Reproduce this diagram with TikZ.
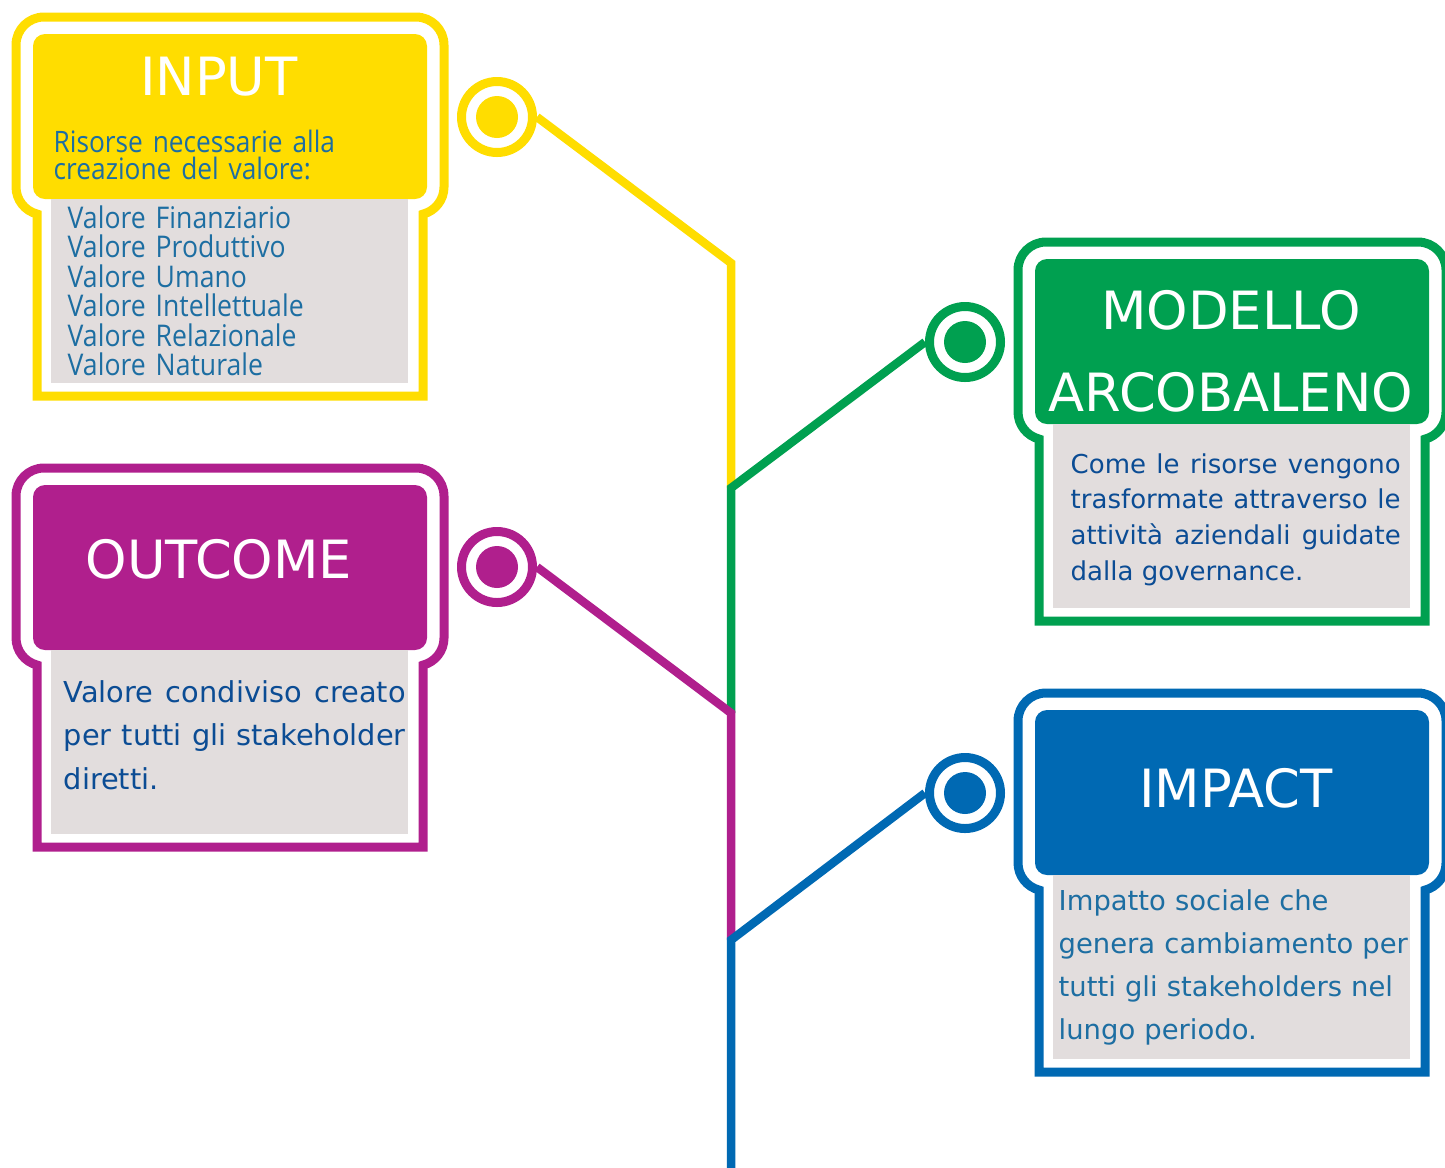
\documentclass[tikz,border=0pt]{standalone}
\usepackage{fontspec}
\setmainfont{DejaVu Sans}
\newfontfamily\fonttitolo{DejaVu Sans}
\newfontfamily\fontstretto[FakeStretch=0.89]{Open Sans}
\usepackage{xcolor}
\usepackage{tikz}
\definecolor{giallo}{HTML}{FFDD00}
\definecolor{verde}{HTML}{00A050}
\definecolor{viola}{HTML}{B01F8D}
\definecolor{blu}{HTML}{0069B3}
\definecolor{grigio}{HTML}{E2DDDD}
\definecolor{testoblu}{HTML}{0B4C94}
\definecolor{testoazzurro}{HTML}{1D6EA2}

\begin{document}
\begin{tikzpicture}[
	x=0.1mm, y=0.1mm,
	cornice/.style={line width=0.9mm},
	testata/.style={rounded corners=1.2mm, minimum width=39.4mm, minimum height=16.5mm, inner sep=0pt},
	corpo/.style={fill=grigio, minimum width=35.7mm, minimum height=18.4mm, inner sep=0pt},
	titolo/.style={text=white, anchor=base, inner sep=0pt, align=center,
		font=\fonttitolo\fontsize{15pt}{23.6pt}\selectfont},
	testo/.style={anchor=base west, inner sep=0pt},
	cerchio/.style={circle, draw=#1, line width=0.9mm, fill=white, minimum size=7.1mm, inner sep=0pt,
		path picture={\fill[#1] (path picture bounding box.center) circle (2.1mm);}},
	ramo/.style={line width=0.85mm}
	]
	
	\useasboundingbox (0,0) rectangle (1445,-1167);
	
	% --- Cornici, testate e corpi ---
	\foreach \ox/\oy/\col/\n in {0/17/giallo/In, 1002/242/verde/Mod, 0/468/viola/Out, 1002/693/blu/Imp} {
		\draw[cornice, \col] (\ox+444,-\oy-170) arc[start angle=0, end angle=-75.5, radius=2.8mm]
			-- (\ox+423,-\oy-379) -- (\ox+37,-\oy-379) -- (\ox+37,-\oy-197)
			arc[start angle=255.5, end angle=180, radius=2.8mm]
			-- (\ox+16,-\oy-28) arc[start angle=180, end angle=90, radius=2.8mm]
			-- (\ox+416,-\oy) arc[start angle=90, end angle=0, radius=2.8mm] -- cycle;
		\node[testata, fill=\col] (t\n) at (\ox+230,-\oy-99.5) {};
		\node[corpo] (c\n) at (\ox+229.5,-\oy-274) {};
	}
	
	% --- Titoli ---
	\node[titolo] (nIn) at (219,-95) {INPUT};
	\node[titolo, text width=39mm] (nMod) at (1231,-329) {MODELLO\\ARCOBALENO};
	\node[titolo] (nOut) at (219,-578) {OUTCOME};
	\node[titolo] (nImp) at (1236,-807) {IMPACT};
	
	% --- Testi ---
	\node[testo, text width=36mm, align=left, text=testoazzurro, font=\fontstretto\fontsize{8.4pt}{7.95pt}\selectfont]
		(sIn) at (53,-152) {Risorse necessarie alla\\creazione del valore:};
	\node[testo, text width=34mm, align=left, text=testoazzurro, font=\fontstretto\fontsize{8.5pt}{8.4pt}\selectfont]
		(lIn) at (67,-228) {Valore Finanziario\\Valore Produttivo\\Valore Umano\\Valore Intellettuale\\Valore Relazionale\\Valore Naturale};
	\node[testo, text width=33mm, align=justify, text=testoblu, font=\fontsize{7.4pt}{10.2pt}\selectfont]
		(dMod) at (1070,-473) {Come le risorse vengono\linebreak trasformate attraverso le\linebreak attività aziendali guidate\linebreak dalla governance.};
	\node[testo, text width=34.2mm, align=justify, text=testoblu, font=\fontsize{8.2pt}{12.5pt}\selectfont]
		(dOut) at (63,-702) {Valore condiviso creato\linebreak per tutti gli stakeholder\linebreak diretti.};
	\node[testo, text width=36mm, align=left, text=testoazzurro, font=\fontsize{7.8pt}{12.3pt}\selectfont]
		(dImp) at (1058,-910) {Impatto sociale che\\genera cambiamento per\\tutti gli stakeholders nel\\lungo periodo.};
	
	% --- Cerchi ---
	\node[cerchio=giallo] (pIn) at (497,-117) {};
	\node[cerchio=verde] (pMod) at (965,-342) {};
	\node[cerchio=viola] (pOut) at (497,-567) {};
	\node[cerchio=blu] (pImp) at (965,-793) {};
	
	% --- Tronco e rami ---
	\coordinate (gomito) at (731,-263);
	\coordinate (nodoMod) at (731,-488);
	\coordinate (nodoOut) at (731,-713);
	\coordinate (nodoImp) at (731,-940);
	\coordinate (fondo) at (731,-1190);
	\draw[ramo, giallo] (pIn.east) -- (gomito) -- (nodoMod);
	\draw[ramo, verde] (pMod.west) -- (nodoMod) -- (nodoOut);
	\draw[ramo, viola] (pOut.east) -- (nodoOut) -- (nodoImp);
	\draw[ramo, blu] (pImp.west) -- (nodoImp) -- (fondo);
	
\end{tikzpicture}
\end{document}
